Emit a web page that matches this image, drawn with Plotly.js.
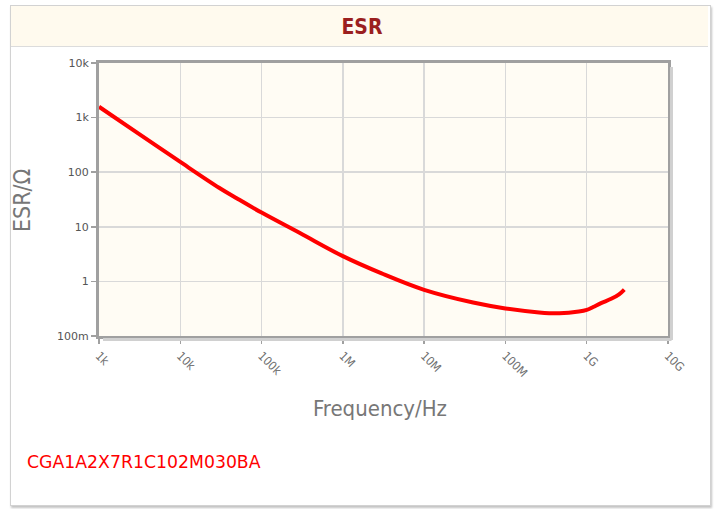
<!DOCTYPE html>
<html>
<head>
<meta charset="utf-8">
<script src="https://cdn.plot.ly/plotly-3.0.1.min.js"></script>
<style>
  html, body { margin: 0; padding: 0; background: #ffffff; }
  #wrap { position: relative; width: 718px; height: 509px; overflow: hidden; }
  #box { position: absolute; left: 10px; top: 5px; width: 699px; height: 499px;
         border: 1px solid #d2d2d2; box-shadow: 1px 2px 2px #c4c4c4; background: #fff; }
  #hdr { position: absolute; left: 11px; top: 6px; width: 697px; height: 40px;
         background: #fffaee; border-bottom: 1px solid #dcdcdc; }
  #chart { position: absolute; left: 0; top: 0; width: 718px; height: 509px; }
</style>
</head>
<body>
<div id="wrap">
  <div id="box"></div>
  <div id="hdr"></div>
  <div id="chart"></div>
</div>
<script>
// Frequency (Hz) and ESR (Ohm)
const freqHz = [1e3, 3e3, 1e4, 3e4, 5e4, 1e5, 3e5, 1e6, 3e6, 1e7, 4e7, 1e8, 2.6e8, 4.6e8, 8e8, 1e9, 1.2e9, 1.5e9, 2e9, 2.5e9, 2.9e9];
const esrOhm = [1580, 520, 154, 52, 33, 18.2, 7.6, 2.9, 1.4, 0.70, 0.41, 0.32, 0.27, 0.26, 0.28, 0.30, 0.34, 0.40, 0.48, 0.58, 0.71];

const xTickVals = [1e3, 1e4, 1e5, 1e6, 1e7, 1e8, 1e9, 1e10];
const xTickText = ['1k', '10k', '100k', '1M', '10M', '100M', '1G', '10G'];
const yTickVals = [0.1, 1, 10, 100, 1000, 10000];
const yTickText = ['100m', '1', '10', '100', '1k', '10k'];

const chartTitle = 'ESR';
const xTitle = 'Frequency/Hz';
const yTitle = 'ESR/Ω';
const partNumber = 'CGA1A2X7R1C102M030BA';

const W = 718, H = 509;
const L = 99, R = 50, T = 63, B = 173;
const pw = W - L - R, ph = H - T - B;
const px = v => v / pw, py = v => v / ph;

const trace = {
  x: freqHz, y: esrOhm, type: 'scatter', mode: 'lines',
  line: { color: '#ff0000', width: 4, shape: 'spline', smoothing: 1 },
  hoverinfo: 'skip'
};

const axisCommon = {
  type: 'log', showline: true, mirror: true, linecolor: '#a0a0a0', linewidth: 3,
  showgrid: true, gridcolor: '#d9d9d9', gridwidth: 1.5,
  ticks: 'outside', ticklen: 5, tickcolor: '#a0a0a0', tickwidth: 1.5,
  tickmode: 'array', zeroline: false, fixedrange: true
};

const layout = {
  width: W, height: H,
  margin: { l: L, r: R, t: T, b: B },
  paper_bgcolor: 'rgba(0,0,0,0)',
  plot_bgcolor: '#fffcf4',
  showlegend: false,
  title: {
    text: '<b>' + chartTitle + '</b>',
    font: { family: 'DejaVu Sans Condensed, DejaVu Sans', size: 21, color: '#9b1f1f' },
    x: 362 / W, xanchor: 'center', xref: 'container', y: 1 - 27 / H, yanchor: 'middle', yref: 'container'
  },
  xaxis: Object.assign({}, axisCommon, {
    range: [3, 10], tickvals: xTickVals, ticktext: xTickText, tickangle: 45,
    tickfont: { family: 'DejaVu Sans Condensed, DejaVu Sans', size: 12, color: '#707070' }
  }),
  yaxis: Object.assign({}, axisCommon, {
    range: [-1, 4], tickvals: yTickVals, ticktext: yTickText,
    tickfont: { family: 'DejaVu Sans', size: 11, color: '#555555' }
  }),
  shapes: [
    { type: 'line', xref: 'paper', yref: 'paper', x0: 1 + px(3.5), x1: 1 + px(3.5), y0: -py(4), y1: 1 - py(4),
      line: { color: '#d0d0d0', width: 3 } },
    { type: 'line', xref: 'paper', yref: 'paper', x0: px(4), x1: 1 + px(3.5), y0: -py(3.5), y1: -py(3.5),
      line: { color: '#d0d0d0', width: 3 } }
  ],
  annotations: [
    { text: xTitle, xref: 'paper', yref: 'paper', x: (380 - L) / pw, y: -(408 - (T + ph)) / ph,
      xanchor: 'center', yanchor: 'middle', showarrow: false,
      font: { family: 'DejaVu Sans Condensed, DejaVu Sans', size: 22, color: '#777777' } },
    { text: yTitle, xref: 'paper', yref: 'paper', x: (22 - L) / pw, y: ((T + ph) - 200) / ph,
      xanchor: 'center', yanchor: 'middle', textangle: -90, showarrow: false,
      font: { family: 'DejaVu Sans Condensed, DejaVu Sans', size: 23, color: '#777777' } },
    { text: partNumber, xref: 'paper', yref: 'paper', x: (25 - L) / pw, y: -(462 - (T + ph)) / ph,
      xanchor: 'left', yanchor: 'middle', showarrow: false,
      font: { family: 'DejaVu Sans', size: 17.3, color: '#ff0000' } }
  ]
};

Plotly.newPlot('chart', [trace], layout, { displayModeBar: false, staticPlot: true });
</script>
</body>
</html>
